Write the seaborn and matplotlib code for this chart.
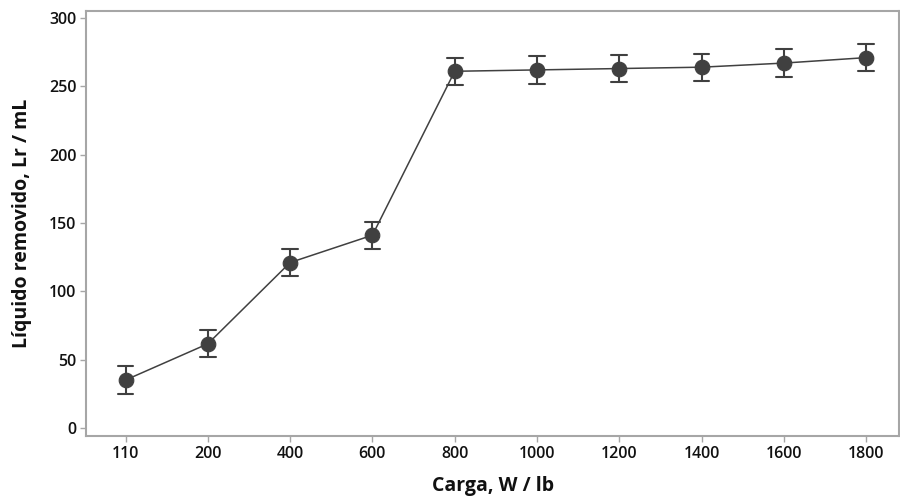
import matplotlib
matplotlib.use("Agg")
import matplotlib.pyplot as plt
import seaborn as sns
import pandas as pd
import numpy as np

cargas = ["110", "200", "400", "600", "800", "1000", "1200", "1400", "1600", "1800"]
liquido = [35, 61.5, 121, 141, 261, 262, 263, 264, 267, 271]
erro = [10, 10, 10, 10, 10, 10, 10, 10, 10, 10]
yticks = [0, 50, 100, 150, 200, 250, 300]

rows = []
for c, v, e in zip(cargas, liquido, erro):
    for val in (v - e, v, v + e):
        rows.append({"Carga": c, "Liquido": val})
df = pd.DataFrame(rows)

sns.set_theme(style="white")
plt.rcParams["font.family"] = ["Open Sans", "DejaVu Sans"]

fig = plt.figure(figsize=(9, 5.01), dpi=100)
ax = fig.add_axes([0.0956, 0.1297, 0.9034, 0.848])

sns.pointplot(data=df, x="Carga", y="Liquido", order=cargas, ax=ax,
              estimator="mean", errorbar=lambda x: (x.min(), x.max()),
              color="#404040", markers="o", linewidth=1.1,
              capsize=0.19, err_kws={"linewidth": 1.5},
              markersize=10.5)

ax.set_xlim(-0.48, 9.4)
ax.set_ylim(-6, 305)
ax.set_yticks(yticks)
ax.set_yticklabels([str(t) for t in yticks])

for s in ax.spines.values():
    s.set_color("#a6a6a6")
    s.set_linewidth(1.5)

ax.tick_params(axis="both", which="major", direction="out", length=4, width=1,
               color="#a6a6a6", labelsize=11.5, labelcolor="#111111", pad=3,
               bottom=True, left=True)
for lab in ax.get_xticklabels() + ax.get_yticklabels():
    lab.set_fontweight("semibold")

ax.set_xlabel("Carga, W / lb", fontsize=14, fontweight="bold", color="#111111", labelpad=10)
ax.set_ylabel("Líquido removido, Lr / mL", fontsize=14, fontweight="bold", color="#111111", labelpad=12)

fig.savefig("out.png", dpi=100)
